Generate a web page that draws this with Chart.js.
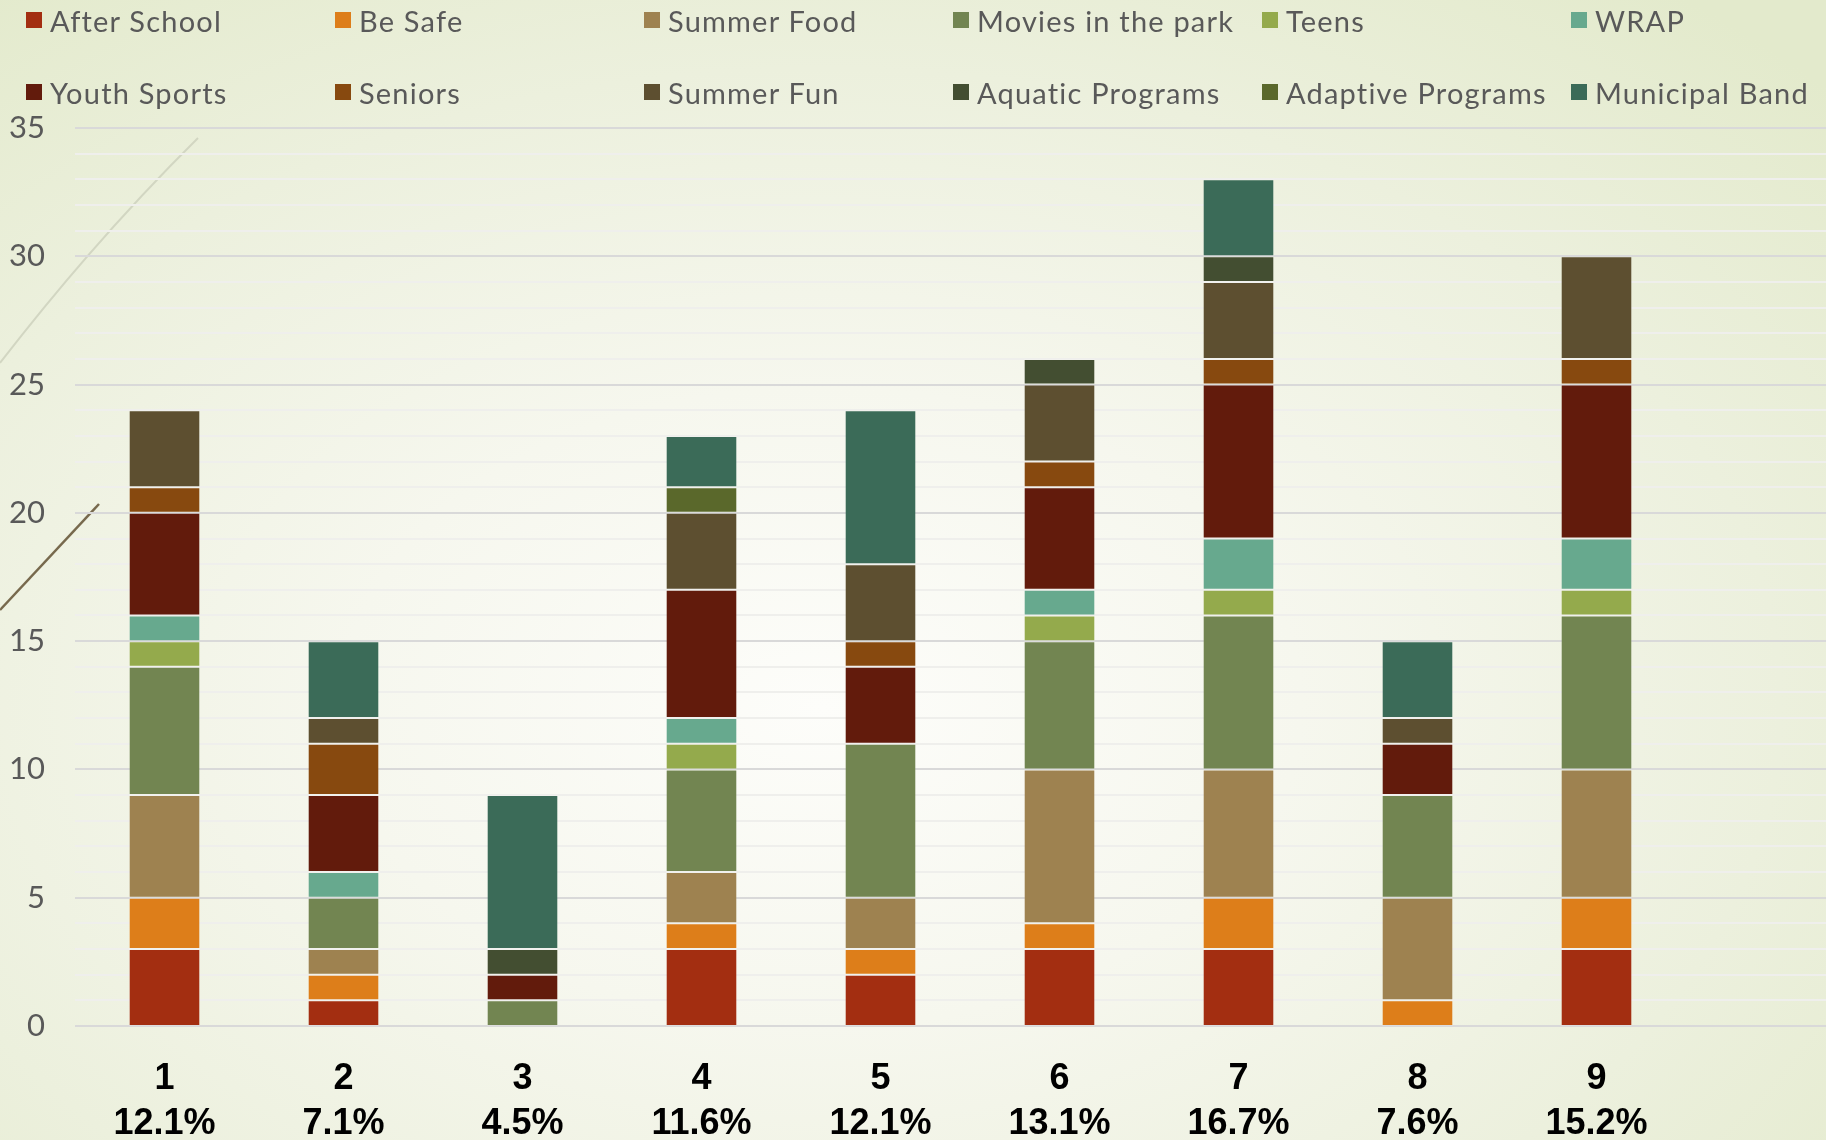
<!DOCTYPE html>
<html>
<head>
<meta charset="utf-8">
<script src="https://cdn.jsdelivr.net/npm/chart.js@4.4.1/dist/chart.umd.min.js"></script>
<style>
  html, body { margin: 0; padding: 0; }
  body {
    width: 1826px; height: 1140px; overflow: hidden; position: relative;
    background: radial-gradient(ellipse 75% 80% at 45% 62%, #fdfdfa 0%, #f6f7ee 35%, #ecf0dd 70%, #e3eacc 100%);
    font-family: Lato, sans-serif;
  }
  #deco { position: absolute; left: 0; top: 0; }
  #wrap { position: absolute; left: 0; top: 0; width: 1826px; height: 1140px; }
  #legend {
    position: absolute; left: 26px; top: 0; display: grid;
    grid-template-columns: repeat(6, 309px); grid-auto-rows: 72px; padding-top: 2px;
  }
  #legend .item { display: flex; align-items: center; height: 36px; color: #595959; font-size: 29px; letter-spacing: 1.2px; white-space: nowrap; }
  #legend .box { width: 16px; height: 16px; margin-right: 8px; flex: none; }
</style>
</head>
<body>
<svg id="deco" width="1826" height="1140">
  <path d="M0 363 Q 95 240 198 138" stroke="#d2d6c2" stroke-width="2" fill="none"/>
  <path d="M0 610 L 99 504" stroke="#77694d" stroke-width="2.5" fill="none"/>
</svg>
<div id="wrap"><canvas id="myChart"></canvas></div>
<div id="legend"></div>
<script>
const categories = ["1", "2", "3", "4", "5", "6", "7", "8", "9"];
const shares = ["12.1%", "7.1%", "4.5%", "11.6%", "12.1%", "13.1%", "16.7%", "7.6%", "15.2%"];
const yTicks = [0, 5, 10, 15, 20, 25, 30, 35];

const afterSchool = [3, 1, 0, 3, 2, 3, 3, 0, 3];
const beSafe = [2, 1, 0, 1, 1, 1, 2, 1, 2];
const summerFood = [4, 1, 0, 2, 2, 6, 5, 4, 5];
const moviesInThePark = [5, 2, 1, 4, 6, 5, 6, 4, 6];
const teens = [1, 0, 0, 1, 0, 1, 1, 0, 1];
const wrapProgram = [1, 1, 0, 1, 0, 1, 2, 0, 2];
const youthSports = [4, 3, 1, 5, 3, 4, 6, 2, 6];
const seniors = [1, 2, 0, 0, 1, 1, 1, 0, 1];
const summerFun = [3, 1, 0, 3, 3, 3, 3, 1, 4];
const aquaticPrograms = [0, 0, 1, 0, 0, 1, 1, 0, 0];
const adaptivePrograms = [0, 0, 0, 1, 0, 0, 0, 0, 0];
const municipalBand = [0, 3, 6, 2, 6, 0, 3, 3, 0];

const series = [
  { label: "After School", data: afterSchool, color: "#a32e11" },
  { label: "Be Safe", data: beSafe, color: "#dd7e1a" },
  { label: "Summer Food", data: summerFood, color: "#9e8250" },
  { label: "Movies in the park", data: moviesInThePark, color: "#728551" },
  { label: "Teens", data: teens, color: "#94aa4c" },
  { label: "WRAP", data: wrapProgram, color: "#67a98e" },
  { label: "Youth Sports", data: youthSports, color: "#621b0c" },
  { label: "Seniors", data: seniors, color: "#87490f" },
  { label: "Summer Fun", data: summerFun, color: "#5d4f30" },
  { label: "Aquatic Programs", data: aquaticPrograms, color: "#434e31" },
  { label: "Adaptive Programs", data: adaptivePrograms, color: "#5a682b" },
  { label: "Municipal Band", data: municipalBand, color: "#3b6b58" },
];

// horizontal grid runs past the last category to the page edge, like the slide
const gridLines = {
  id: "gridLines",
  beforeDatasetsDraw(chart) {
    const { ctx, chartArea, scales } = chart;
    const y = scales.y;
    ctx.save();
    ctx.lineWidth = 2;
    for (let v = 0; v <= 35; v++) {
      const py = Math.round(y.getPixelForValue(v));
      ctx.strokeStyle = v % 5 === 0 ? "#d9d9d9" : "#efefec";
      ctx.beginPath();
      ctx.moveTo(chartArea.left, py);
      ctx.lineTo(chart.width, py);
      ctx.stroke();
    }
    ctx.restore();
  },
};

const ctx = document.getElementById("myChart").getContext("2d");
const chart = new Chart(ctx, {
  type: "bar",
  data: {
    labels: categories.map((c, i) => [c, shares[i]]),
    datasets: series.map((s) => ({
      label: s.label,
      data: s.data,
      backgroundColor: s.color,
      borderColor: "rgba(255,255,255,0.12)",
      borderWidth: (c) => (c.raw ? 1 : 0),
      borderSkipped: false,
      barPercentage: 0.4,
      categoryPercentage: 1,
    })),
  },
  options: {
    responsive: true,
    maintainAspectRatio: false,
    animation: false,
    plugins: { legend: { display: false }, tooltip: { enabled: false } },
    layout: { padding: { top: 128, left: 10, right: 140, bottom: 0 } },
    scales: {
      x: {
        stacked: true,
        grid: { display: false, drawTicks: false },
        border: { display: false },
        ticks: {
          color: "#000000",
          padding: 31,
          font: { family: "'Liberation Sans', Arial, sans-serif", size: 36, weight: "bold", lineHeight: 1.25 },
        },
        afterFit: (scale) => { scale.height = 114; },
      },
      y: {
        stacked: true,
        min: 0,
        max: 35,
        grid: { display: false, drawTicks: false },
        border: { display: false },
        afterBuildTicks: (scale) => { scale.ticks = yTicks.map((v) => ({ value: v })); },
        ticks: {
          color: "#595959",
          padding: 30,
          font: { family: "Lato, sans-serif", size: 31 },
        },
        afterFit: (scale) => { scale.width = 65; },
      },
    },
  },
  plugins: [gridLines],
});

const legend = document.getElementById("legend");
chart.data.datasets.forEach((ds) => {
  const item = document.createElement("div");
  item.className = "item";
  const box = document.createElement("span");
  box.className = "box";
  box.style.background = ds.backgroundColor;
  item.appendChild(box);
  item.appendChild(document.createTextNode(ds.label));
  legend.appendChild(item);
});
</script>
</body>
</html>
